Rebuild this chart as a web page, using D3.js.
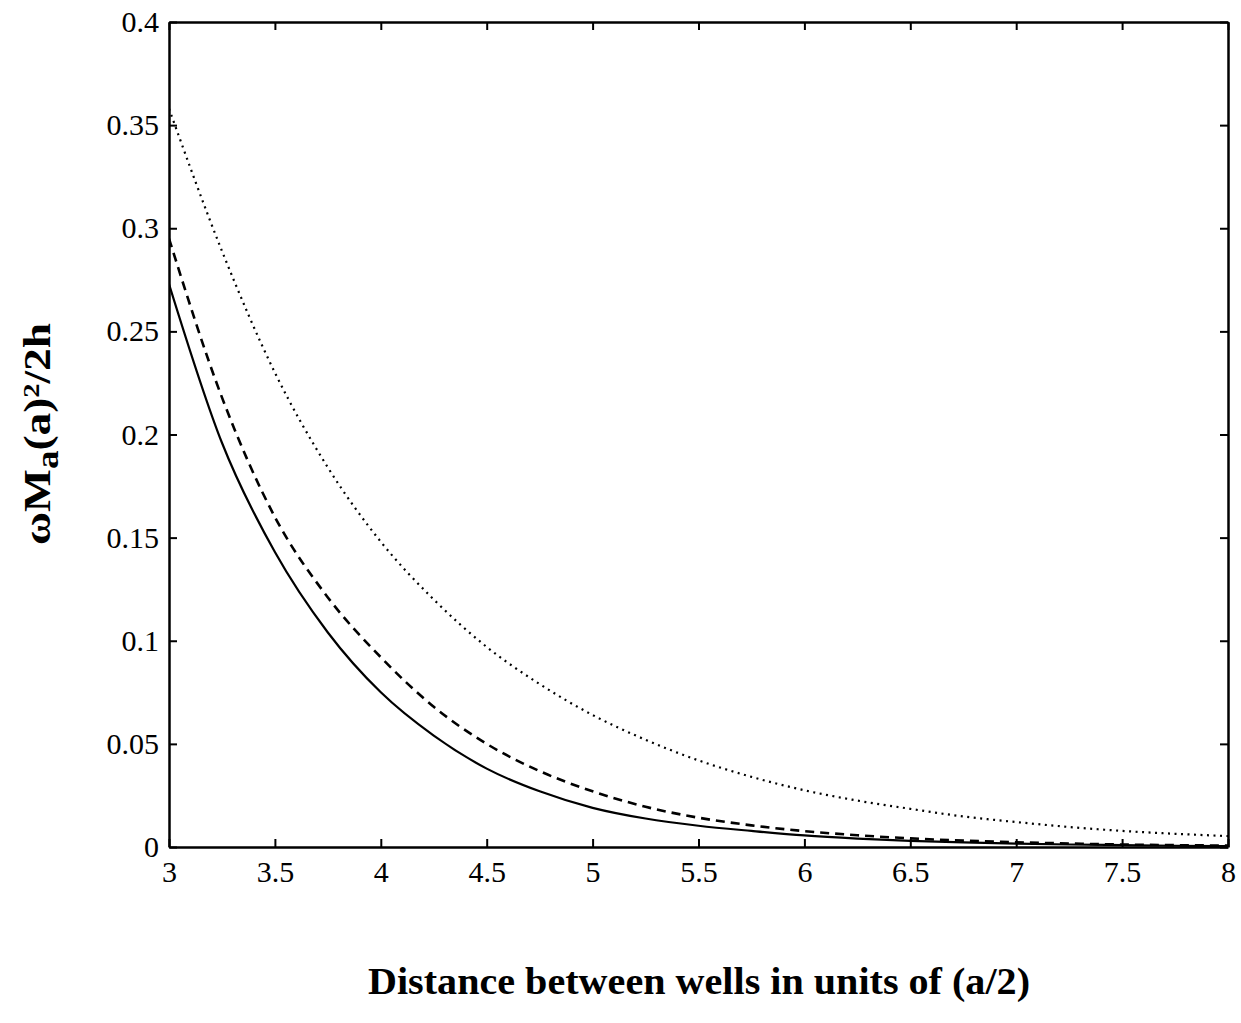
<!DOCTYPE html>
<html lang="en">
<head>
    <meta charset="UTF-8">
    <title>Tunnelling frequency vs well distance</title>
    <script src="https://cdn.jsdelivr.net/npm/d3@7/dist/d3.min.js"></script>
    <style>
        body { margin: 0; background: #fff; }
        .tick text { font-family: "Liberation Serif", "Times New Roman", serif; font-size: 30px; fill: #000; }
        .tick line { stroke: #000; stroke-width: 2px; }
        .domain { stroke: #000; stroke-width: 2.5px; }
    </style>
</head>
<body>
    <div id="chart"></div>
    <script>
        // distance between wells, units of a/2
        var distance = [3, 3.25, 3.5, 3.75, 4, 4.25, 4.5, 4.75, 5, 5.25, 5.5, 5.75,
                        6, 6.25, 6.5, 6.75, 7, 7.25, 7.5, 7.75, 8];

        // values
        var solidVals = [0.273, 0.196, 0.143, 0.104, 0.075, 0.054, 0.038, 0.027, 0.019, 0.0138, 0.0103,
                         0.0078, 0.0056, 0.0041, 0.0030, 0.0022, 0.0016, 0.0012, 0.0009, 0.0006, 0.0004];
        var dashedVals = [0.295, 0.218, 0.160, 0.121, 0.092, 0.068, 0.050, 0.0368, 0.027, 0.0195, 0.0142,
                          0.0105, 0.0077, 0.0057, 0.0042, 0.0031, 0.0023, 0.0017, 0.0012, 0.0009, 0.0007];
        var dottedVals = [0.358, 0.289, 0.230, 0.184, 0.148, 0.120, 0.097, 0.079, 0.064, 0.052, 0.042,
                          0.034, 0.0275, 0.0225, 0.0185, 0.0148, 0.0121, 0.0097, 0.0078, 0.0064, 0.0053];

        var xTicks = [3, 3.5, 4, 4.5, 5, 5.5, 6, 6.5, 7, 7.5, 8];
        var yTicks = [0, 0.05, 0.1, 0.15, 0.2, 0.25, 0.3, 0.35, 0.4];

        var W = 1241, H = 1023;
        var margin = { top: 22, right: 13, bottom: 176, left: 169 };
        var w = W - margin.left - margin.right;
        var h = H - margin.top - margin.bottom;

        var svg = d3.select("#chart").append("svg")
            .attr("width", W)
            .attr("height", H);

        var g = svg.append("g")
            .attr("transform", `translate(${margin.left},${margin.top})`);

        var x = d3.scaleLinear().domain([3, 8]).range([0, w]);
        var y = d3.scaleLinear().domain([0, 0.4]).range([h, 0]);

        g.append("clipPath").attr("id", "clip")
            .append("rect").attr("width", w).attr("height", h);

        var series = [
            { vals: solidVals, dash: null, width: 2.2 },
            { vals: dashedVals, dash: "9,6", width: 2.6 },
            { vals: dottedVals, dash: "2,4.5", width: 2.2 }
        ];

        var line = d3.line()
            .x((d, i) => x(distance[i]))
            .y(d => y(d))
            .curve(d3.curveMonotoneX);

        g.selectAll(".curve")
            .data(series)
            .enter()
            .append("path")
            .attr("class", "curve")
            .attr("clip-path", "url(#clip)")
            .attr("fill", "none")
            .attr("stroke", "#000")
            .attr("stroke-width", d => d.width)
            .attr("stroke-dasharray", d => d.dash)
            .attr("d", d => line(d.vals));

        // axes, ticks pointing inward like the box frame
        g.append("g")
            .attr("transform", `translate(0,${h})`)
            .call(d3.axisBottom(x).tickValues(xTicks).tickSizeInner(-8).tickSizeOuter(0)
                .tickPadding(14).tickFormat(d3.format("")));

        g.append("g")
            .call(d3.axisLeft(y).tickValues(yTicks).tickSizeInner(-8).tickSizeOuter(0)
                .tickPadding(10).tickFormat(d3.format("")));

        g.append("g")
            .call(d3.axisTop(x).tickValues(xTicks).tickSizeInner(-8).tickSizeOuter(0).tickFormat(""));

        g.append("g")
            .attr("transform", `translate(${w},0)`)
            .call(d3.axisRight(y).tickValues(yTicks).tickSizeInner(-8).tickSizeOuter(0).tickFormat(""));

        g.selectAll(".tick text").attr("font-family", null).attr("font-size", null);

        // axis titles
        svg.append("text")
            .attr("x", 699)
            .attr("y", 994)
            .attr("text-anchor", "middle")
            .attr("font-family", "Liberation Serif, serif")
            .attr("font-weight", "bold")
            .attr("font-size", "38px")
            .attr("textLength", 662)
            .attr("lengthAdjust", "spacingAndGlyphs")
            .text("Distance between wells in units of (a/2)");

        var yl = svg.append("text")
            .attr("transform", "translate(50,434) rotate(-90)")
            .attr("text-anchor", "middle")
            .attr("font-family", "Liberation Serif, serif")
            .attr("font-weight", "bold")
            .attr("font-size", "38px")
            .attr("textLength", 222)
            .attr("lengthAdjust", "spacingAndGlyphs");
        yl.append("tspan").text("\u03c9M");
        yl.append("tspan").attr("baseline-shift", "-25%").attr("font-size", "31px").text("a");
        yl.append("tspan").text("(a)");
        yl.append("tspan").attr("baseline-shift", "45%").attr("font-size", "24px").text("2");
        yl.append("tspan").text("/2h");
    </script>
</body>
</html>
